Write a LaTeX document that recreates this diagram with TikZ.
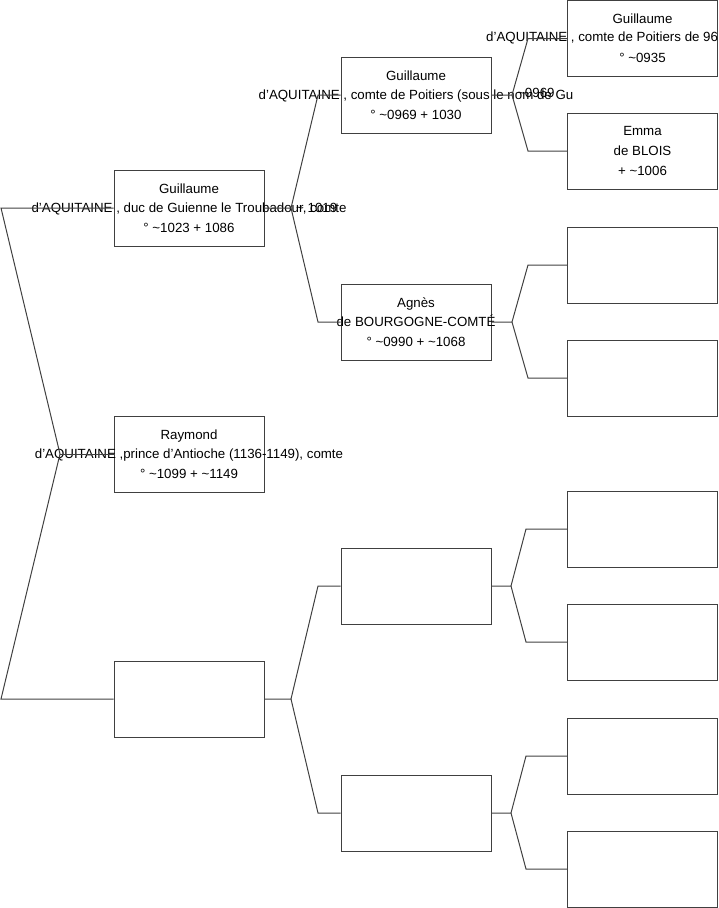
\documentclass[tikz,border=0pt]{standalone}
\usepackage{fontspec}
\setmainfont{Liberation Sans}
\definecolor{linec}{HTML}{404040}
\begin{document}
\begin{tikzpicture}[x=1pt,y=-1pt,
  box/.style={draw=linec, line width=1pt, minimum width=150pt, minimum height=76pt, inner sep=0pt, fill=white},
  txt/.style={align=center, font=\fontsize{13.3}{19.7}\selectfont, inner sep=0pt, text=black},
  one/.style={font=\fontsize{13.3}{15}\selectfont, inner sep=0pt, text=black},
  link/.style={draw=linec, line width=1pt, line join=miter}]
\useasboundingbox (0,0) rectangle (719,908);
\clip (0,0) rectangle (719,908);
% boxes
\node[box] (g1) at (189,208) {};
\node[box] (r1) at (189,454) {};
\node[box] (e1) at (189,699) {};
\node[box] (g2) at (416,95) {};
\node[box] (a2) at (416,322) {};
\node[box] (e2a) at (416,586) {};
\node[box] (e2b) at (416,813) {};
\node[box] (g3) at (642.5,38.5) {};
\node[box] (m3) at (642.5,151) {};
\node[box] (b1) at (642.5,265) {};
\node[box] (b2) at (642.5,378) {};
\node[box] (b3) at (642.5,529) {};
\node[box] (b4) at (642.5,642) {};
\node[box] (b5) at (642.5,756) {};
\node[box] (b6) at (642.5,869) {};
% texts
\node[txt] (tg1) at (g1.center) {Guillaume\\d'AQUITAINE , duc de Guienne le Troubadour, comte\\° \textasciitilde1023 + 1086};
\node[one, anchor=base west] (tg1x) at (296,212.5) {\textasciitilde{} 1019};
\node[txt] (tr1) at (r1.center) {Raymond\\d'AQUITAINE ,prince d'Antioche (1136-1149), comte\\° \textasciitilde1099 + \textasciitilde1149};
\node[txt] (tg2) at (g2.center) {Guillaume\\d'AQUITAINE , comte de Poitiers (sous le nom de Gu\\° \textasciitilde0969 + 1030};
\node[one, anchor=base west] (tg2x) at (517,97) {\textasciitilde0969};
\node[txt] (ta2) at (a2.center) {Agnès\\de BOURGOGNE-COMTÉ\\° \textasciitilde0990 + \textasciitilde1068};
\node[txt] (tg3) at (g3.center) {Guillaume\\\mbox{}\\° \textasciitilde0935};
\node[one, anchor=base west] (tg3x) at (486,41.5) {d'AQUITAINE , comte de Poitiers de 96};
\node[txt] (tm3) at (m3.center) {Emma\\de BLOIS\\+ \textasciitilde1006};
% root fork
\coordinate (ra) at (1,208);
\coordinate (rf) at (60,454);
\coordinate (rc) at (1,699);
\draw[link] (g1.west) -- (ra) -- (rf) -- (rc) -- (e1.west);
\draw[link] (rf) -- (r1.west);
% level 1 -> level 2
\coordinate (f1) at (291,208);
\coordinate (f1a) at (318,95);
\coordinate (f1b) at (318,322);
\draw[link] (g1.east) -- (f1) -- (f1a) -- (g2.west);
\draw[link] (f1) -- (f1b) -- (a2.west);
\coordinate (f2) at (291,699);
\coordinate (f2a) at (318,586);
\coordinate (f2b) at (318,813);
\draw[link] (e1.east) -- (f2) -- (f2a) -- (e2a.west);
\draw[link] (f2) -- (f2b) -- (e2b.west);
% level 2 -> level 3
\coordinate (h1) at (512,95);
\coordinate (h1a) at (528,38.5);
\coordinate (h1b) at (528,151);
\draw[link] (g2.east) -- (h1) -- (h1a) -- (g3.west);
\draw[link] (h1) -- (h1b) -- (m3.west);
\coordinate (h2) at (512,322);
\coordinate (h2a) at (528,265);
\coordinate (h2b) at (528,378);
\draw[link] (a2.east) -- (h2) -- (h2a) -- (b1.west);
\draw[link] (h2) -- (h2b) -- (b2.west);
\coordinate (h3) at (511,586);
\coordinate (h3a) at (526,529);
\coordinate (h3b) at (526,642);
\draw[link] (e2a.east) -- (h3) -- (h3a) -- (b3.west);
\draw[link] (h3) -- (h3b) -- (b4.west);
\coordinate (h4) at (511,813);
\coordinate (h4a) at (526,756);
\coordinate (h4b) at (526,869);
\draw[link] (e2b.east) -- (h4) -- (h4a) -- (b5.west);
\draw[link] (h4) -- (h4b) -- (b6.west);
\end{tikzpicture}
\end{document}
